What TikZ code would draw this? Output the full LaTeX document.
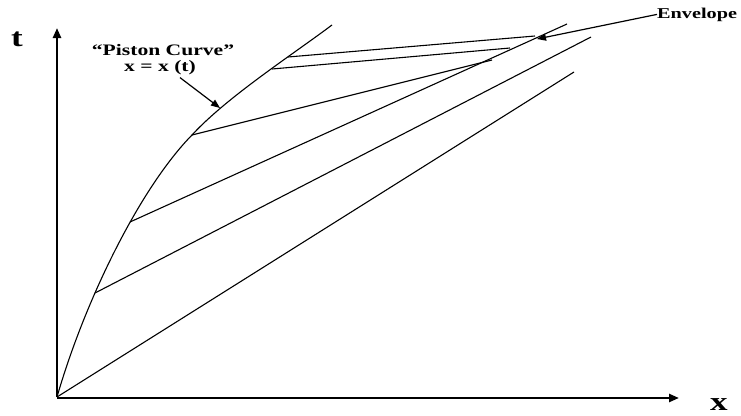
\documentclass[tikz,border=0pt]{standalone}
\usepackage{fontspec}
\setmainfont{Liberation Serif}
\usepackage{graphicx}
\usetikzlibrary{arrows.meta}
\newcommand{\wide}[1]{\scalebox{1.35}[1]{#1}}
\tikzset{
  axis/.style={line width=2.4pt,-{Triangle[length=10pt,width=8pt]}},
  charline/.style={line width=1.1pt},
  pointer/.style={line width=1.2pt,-{Triangle[length=9pt,width=7pt]}},
  biglabel/.style={inner sep=0pt,font=\fontsize{26}{28}\selectfont\bfseries},
  smalllabel/.style={inner sep=0pt,font=\fontsize{16}{18}\selectfont\bfseries}
}
\begin{document}
\begin{tikzpicture}[x=1pt,y=-1pt]
  \useasboundingbox (0,0) rectangle (741,415);
  \coordinate (origin) at (57,397);
  \coordinate (ttip) at (57,28);
  \coordinate (xtip) at (679,398);
  \coordinate (p1) at (95,293);
  \coordinate (p2) at (130,222);
  \coordinate (p3) at (192,135);
  \coordinate (ptouch) at (220,108);
  \coordinate (p4) at (272,69);
  \coordinate (p5) at (288,57);
  \coordinate (pend) at (332,25);
  \coordinate (e0) at (574,72);
  \coordinate (e1) at (591,37);
  \coordinate (e2) at (567,24);
  \coordinate (e3) at (492,60);
  \coordinate (e4) at (510,48);
  \coordinate (e5) at (535,36);
  \coordinate (etouch) at (537,39);
  \draw[axis] (origin) -- (ttip);
  \draw[axis] (57,398) -- (xtip);
  \node[biglabel,anchor=base] (tlabel) at (17,46) {\wide{t}};
  \node[biglabel,anchor=base] (xlabel) at (719,410) {\wide{x}};
  \draw[charline] (origin) .. controls (85,300) and (140,188) .. (p3)
    .. controls (227,97) and (292,55) .. (pend);
  \draw[charline] (origin) -- (e0);
  \draw[charline] (p1) -- (e1);
  \draw[charline] (p2) -- (e2);
  \draw[charline] (p3) -- (e3);
  \draw[charline] (p4) -- (e4);
  \draw[charline] (p5) -- (e5);
  \node[smalllabel,anchor=base] (piston) at (163,55) {\wide{``Piston Curve''}};
  \node[smalllabel,anchor=base] (formula) at (160,71) {\wide{x = x (t)}};
  \draw[pointer] ([xshift=20pt,yshift=-3pt]formula.south) -- (ptouch);
  \node[smalllabel,font=\fontsize{15}{17}\selectfont\bfseries,anchor=base west] (envelope) at (657,18) {\wide{Envelope}};
  \draw[pointer] (envelope.west) -- (etouch);
\end{tikzpicture}
\end{document}
